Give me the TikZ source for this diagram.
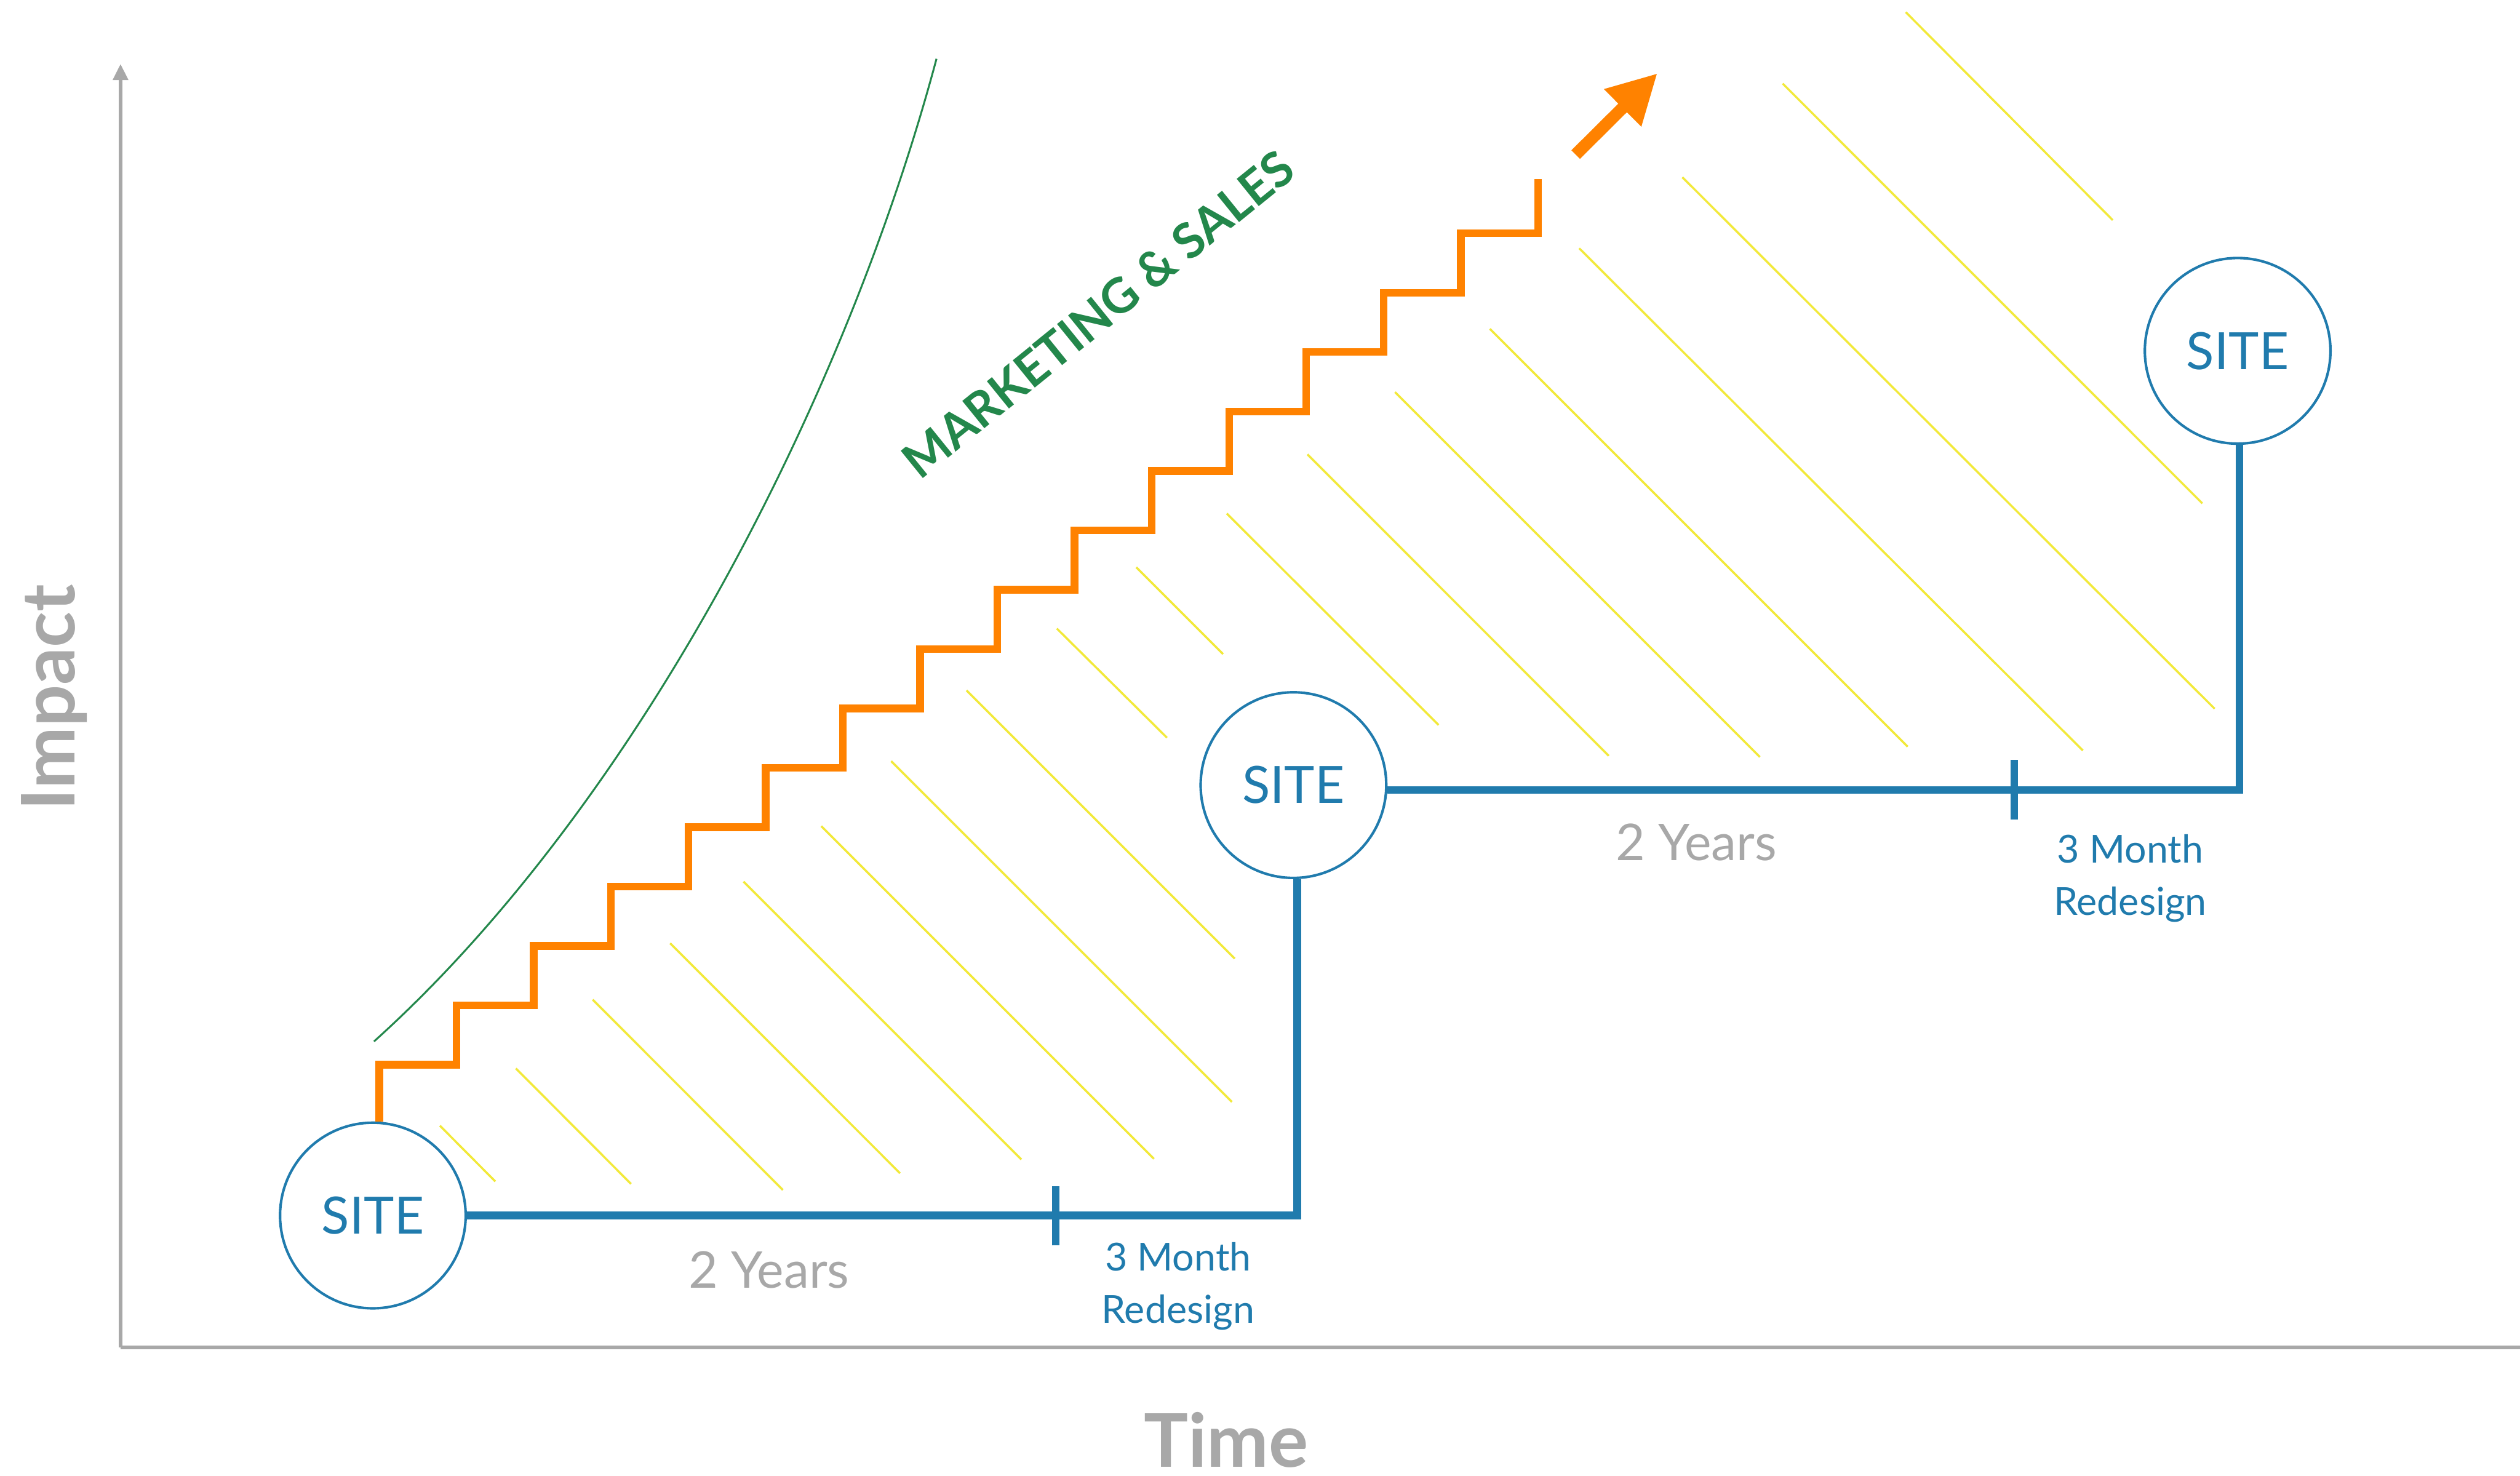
\documentclass[tikz,border=0pt]{standalone}
\usepackage{fontspec}
\setmainfont{Lato}
\usetikzlibrary{arrows.meta}

\definecolor{siteblue}{RGB}{32,123,173}
\definecolor{salesorange}{RGB}{255,130,0}
\definecolor{hatchyellow}{RGB}{242,233,58}
\definecolor{trendgreen}{RGB}{35,135,75}
\definecolor{axisgrey}{RGB}{168,168,168}

\tikzset{
	site/.style={circle,draw=siteblue,fill=white,line width=0.45pt,minimum size=1.155cm,inner sep=0pt,text=siteblue,font=\fontsize{9.1}{11}\selectfont},
	timeline/.style={draw=siteblue,line width=1.34pt},
	stairs/.style={draw=salesorange,line width=1.34pt},
	growth/.style={draw=salesorange,fill=salesorange,line width=2.15pt,-{Triangle[length=0.306cm,width=0.307cm]}},
	hatch/.style={draw=hatchyellow,line width=0.38pt},
	axis/.style={draw=axisgrey,line width=0.63pt,-{Triangle[length=0.1cm,width=0.092cm]}},
	axislabel/.style={text=axisgrey,inner sep=0pt,font=\fontsize{13.1}{15}\selectfont\bfseries},
	span/.style={text=axisgrey,inner sep=0pt,font=\fontsize{8.97}{11}\selectfont},
	redesign/.style={text=siteblue,align=center,inner sep=0pt,font=\fontsize{6.83}{9.19}\selectfont}
}

\begin{document}
\begin{tikzpicture}
			\useasboundingbox (0,0) rectangle (15.68,9.18);
			%Axes
			\coordinate (origin) at (0.75,0.795);
			\draw[axis] (origin) -- (0.75,8.782);
			\draw[axis] (origin) -- (15.78,0.795);
			\node[axislabel,rotate=90,anchor=base] (impact) at (0.466,4.84) {Impact};
			\node[axislabel,anchor=base] (time) at (7.629,0.05) {Time};
			%Hatching
			\draw[hatch] (2.737,2.176)--(3.082,1.829);
			\draw[hatch] (3.210,2.532)--(3.926,1.814);
			\draw[hatch] (3.688,2.960)--(4.871,1.776);
			\draw[hatch] (4.170,3.311)--(5.600,1.880);
			\draw[hatch] (4.626,3.695)--(6.355,1.966);
			\draw[hatch] (5.110,4.040)--(7.180,1.970);
			\draw[hatch] (5.545,4.444)--(7.665,2.324);
			\draw[hatch] (6.014,4.884)--(7.683,3.215);
			\draw[hatch] (6.576,5.269)--(7.261,4.590);
			\draw[hatch] (7.070,5.650)--(7.610,5.110);
			\draw[hatch] (7.633,5.985)--(8.951,4.669);
			\draw[hatch] (8.135,6.353)--(10.010,4.477);
			\draw[hatch] (8.680,6.740)--(10.950,4.470);
			\draw[hatch] (9.270,7.134)--(11.870,4.534);
			\draw[hatch] (9.826,7.635)--(12.960,4.510);
			\draw[hatch] (10.468,8.077)--(13.780,4.770);
			\draw[hatch] (11.092,8.660)--(13.703,6.048);
			\draw[hatch] (11.858,9.104)--(13.146,7.810);
			%Marketing curve
			\draw[trendgreen,line width=0.33pt] (2.327,2.700) .. controls (3.962,4.172) and (5.258,6.689) .. (5.827,8.814);
			\node[text=trendgreen,font=\fontsize{8.6}{10}\selectfont\bfseries,inner sep=0pt,rotate=39,anchor=base] (mkt) at (6.90,7.14) {MARKETING \& SALES};
			%Sites
			\node[site] (s1) at (2.32,1.617) {SITE};
			\node[site] (s2) at (8.048,4.295) {SITE};
			\node[site] (s3) at (13.923,6.997) {SITE};
			%Stairs
			\draw[stairs] ([xshift=0.04cm]s1.north) |- (2.841,2.555) |- (3.321,2.925) |- (3.802,3.294) |- (4.283,3.664)
				|- (4.764,4.033) |- (5.244,4.403) |- (5.725,4.772) |- (6.206,5.142) |- (6.686,5.511) |- (7.167,5.881)
				|- (7.648,6.250) |- (8.128,6.620) |- (8.609,6.989) |- (9.090,7.359) |- (9.571,7.728) -- (9.571,8.066);
			\coordinate (g0) at (9.804,8.218);
			\coordinate (g1) at (10.313,8.724);
			\draw[growth] (g0) -- (g1);
			%Timeline
			\draw[timeline] (s1.east) -| ([xshift=0.023cm]s2.south);
			\draw[timeline] ([yshift=-0.03cm]s2.east) -| ([xshift=0.011cm]s3.south);
			\coordinate (t1) at (6.57,1.617);
			\coordinate (t2) at (12.534,4.265);
			\draw[timeline] ([yshift=-0.187cm]t1) -- ([yshift=0.183cm]t1);
			\draw[timeline] ([yshift=-0.183cm]t2) -- ([yshift=0.188cm]t2);
			\node[span,anchor=base] (yrs1) at (4.785,1.167) {2 Years};
			\node[span,anchor=base] (yrs2) at (10.555,3.825) {2 Years};
			\node[redesign] (rd1) at (7.33,1.177) {3 Month\\Redesign};
			\node[redesign] (rd2) at (13.255,3.715) {3 Month\\Redesign};
\end{tikzpicture}
\end{document}
